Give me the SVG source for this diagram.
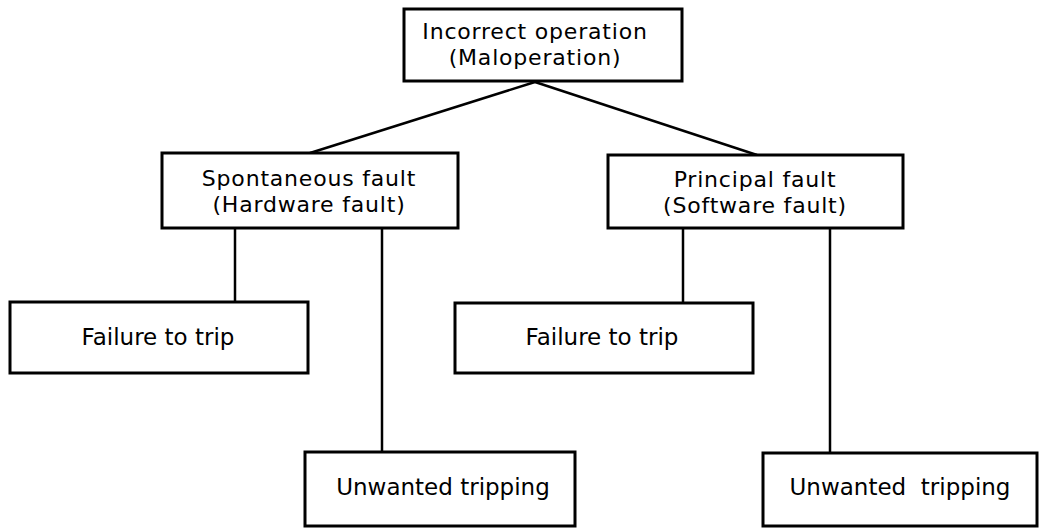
<svg xmlns="http://www.w3.org/2000/svg" width="1042" height="528" viewBox="0 0 1042 528">
<style>
.box{fill:#fff;stroke:#000;stroke-width:3}
.lbl{font-family:"DejaVu Sans",sans-serif;font-size:23px;fill:#000;text-anchor:middle}
.two{font-size:22px;letter-spacing:0.8px}
.con{stroke:#000;stroke-width:2.5;fill:none}
</style>
<rect width="1042" height="528" fill="#fff"/>
<g id="connectors">
<line class="con" x1="535" y1="82" x2="310" y2="153"/>
<line class="con" x1="535" y1="82" x2="757" y2="155"/>
<line class="con" x1="235" y1="228" x2="235" y2="302"/>
<line class="con" x1="382" y1="228" x2="382" y2="452"/>
<line class="con" x1="683" y1="228" x2="683" y2="303"/>
<line class="con" x1="830" y1="228" x2="830" y2="453"/>
</g>
<g id="n-incorrect">
<rect class="box" x="404" y="9" width="278" height="72"/>
<text class="lbl two" x="535" y="39">Incorrect operation</text>
<text class="lbl two" x="535" y="65">(Maloperation)</text>
</g>
<g id="n-spontaneous">
<rect class="box" x="162" y="153" width="296" height="75"/>
<text class="lbl two" x="309" y="186">Spontaneous fault</text>
<text class="lbl two" x="309" y="212">(Hardware fault)</text>
</g>
<g id="n-principal">
<rect class="box" x="608" y="155" width="295" height="73"/>
<text class="lbl two" x="755" y="187">Principal fault</text>
<text class="lbl two" x="755" y="213">(Software fault)</text>
</g>
<g id="n-fail1">
<rect class="box" x="10" y="302" width="298" height="71"/>
<text class="lbl" x="158" y="345">Failure to trip</text>
</g>
<g id="n-fail2">
<rect class="box" x="455" y="303" width="298" height="70"/>
<text class="lbl" x="602" y="345">Failure to trip</text>
</g>
<g id="n-unwanted1">
<rect class="box" x="305" y="452" width="270" height="74"/>
<text class="lbl" x="443" y="495">Unwanted tripping</text>
</g>
<g id="n-unwanted2">
<rect class="box" x="763" y="453" width="274" height="73"/>
<text class="lbl" x="900" y="495" xml:space="preserve">Unwanted  tripping</text>
</g>
</svg>
